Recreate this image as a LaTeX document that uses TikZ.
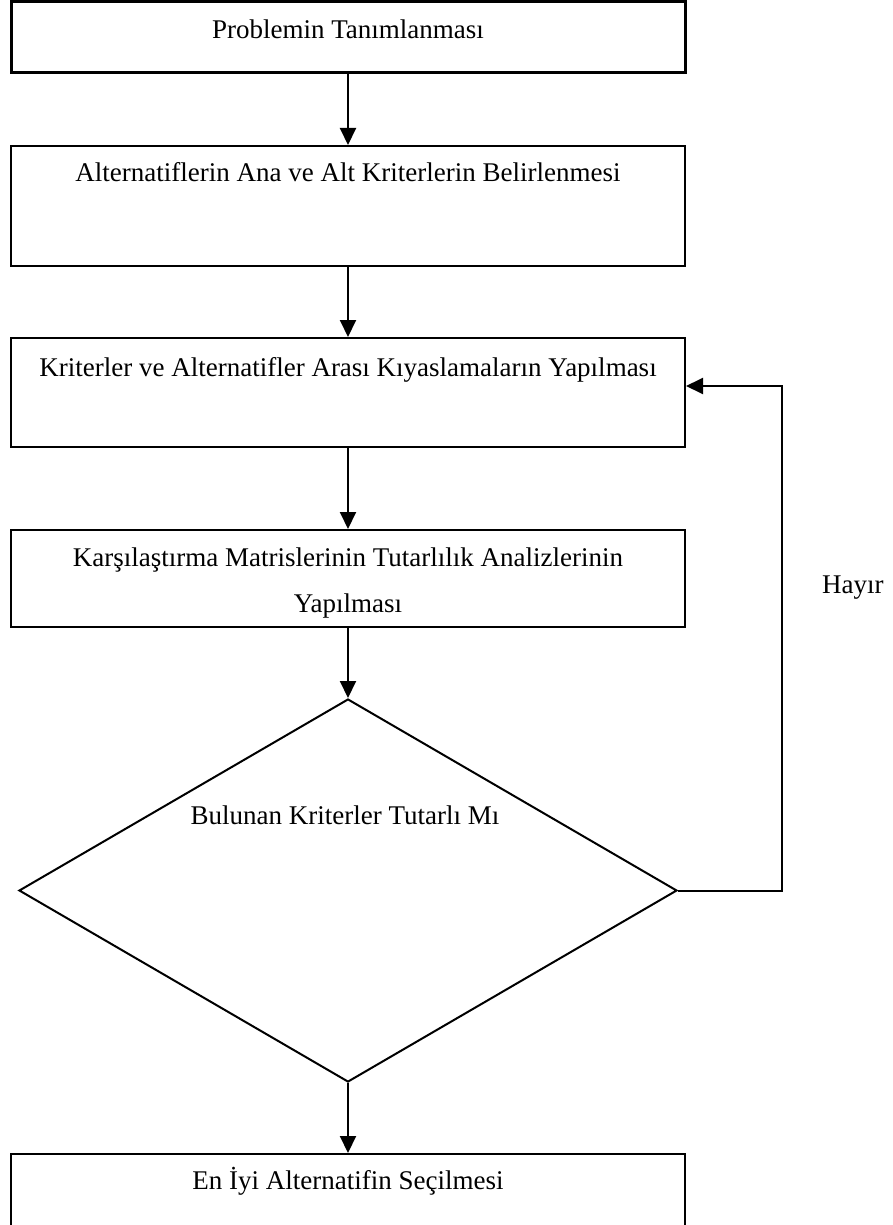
\documentclass[tikz,border=0pt]{standalone}
\usepackage{fontspec}
\setmainfont{Liberation Serif}
\usetikzlibrary{arrows.meta,shapes.geometric}
\begin{document}
\begin{tikzpicture}[x=1pt,y=-1pt,
  stepbox/.style={draw, line width=2pt, minimum width=674pt, inner sep=0pt},
  steptext/.style={anchor=base, inner sep=0pt, font=\fontsize{27}{46}\selectfont},
  decision/.style={draw, diamond, line width=2pt, inner sep=0pt, minimum width=658pt, minimum height=383pt},
  flow/.style={line width=2pt, -{Triangle[length=17pt,width=16pt]}}
]
\useasboundingbox (0,0) rectangle (893,1225);
\clip (0,0) rectangle (893,1225);

% process boxes
\node[stepbox, line width=3pt, minimum height=71pt] (b1) at (348,37.5) {};
\node[stepbox, minimum height=120pt] (b2) at (348,206) {};
\node[stepbox, minimum height=109pt] (b3) at (348,392.5) {};
\node[stepbox, minimum height=97pt] (b4) at (348,578.5) {};
\node[decision] (dec) at (348,890.5) {};
\node[stepbox, minimum height=120pt] (b5) at (348,1214) {};

% box texts
\node[steptext] (t1) at (348,39) {Problemin Tanımlanması};
\node[steptext] (t2) at (348,182) {Alternatiflerin Ana ve Alt Kriterlerin Belirlenmesi};
\node[steptext] (t3) at (348,376) {Kriterler ve Alternatifler Arası Kıyaslamaların Yapılması};
\node[steptext] (t4a) at (348,566) {Karşılaştırma Matrislerinin Tutarlılık Analizlerinin};
\node[steptext] (t4b) at (348,612) {Yapılması};
\node[steptext] (t5) at (345,824) {Bulunan Kriterler Tutarlı Mı};
\node[steptext] (t6) at (348,1189) {En İyi Alternatifin Seçilmesi};
\node[steptext, anchor=base west] (no) at (822,593) {Hayır};

% main flow
\draw[flow] (b1.south) -- (b2.north);
\draw[flow] (b2.south) -- (b3.north);
\draw[flow] (b3.south) -- (b4.north);
\draw[flow] (b4.south) -- (dec.north);
\draw[flow] (dec.south) -- (b5.north);

% feedback loop
\coordinate (loop) at (782,386);
\draw[flow] (dec.east) -| (loop) -- (b3.east |- loop);
\end{tikzpicture}
\end{document}
